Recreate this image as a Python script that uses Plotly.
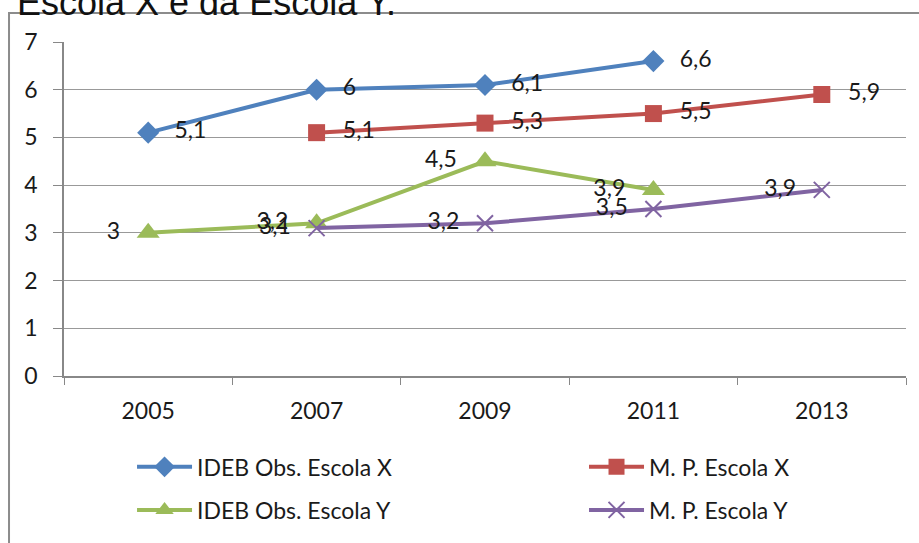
import plotly.graph_objects as go

years = ["2005", "2007", "2009", "2011", "2013"]
ideb_x = [5.1, 6.0, 6.1, 6.6, None]
mp_x = [None, 5.1, 5.3, 5.5, 5.9]
ideb_y = [3.0, 3.2, 4.5, 3.9, None]
mp_y = [None, 3.1, 3.2, 3.5, 3.9]

PAD = "\u00a0\u00a0\u2009"


def labels(vals, side):
    out = []
    for v in vals:
        if v is None:
            out.append("")
            continue
        s = f"{v:g}".replace(".", ",")
        out.append(PAD + s if side == "right" else s + PAD)
    return out


FONT = "Lato"
FS = 23
# name, values, colour, marker, size, label side, legend id, legend x, legend y
series = [
    ("IDEB Obs. Escola X", ideb_x, "#4F81BD", "diamond", 17, "right", "legend", 0.0808, -0.272),
    ("M. P. Escola X", mp_x, "#C0504D", "square", 17, "right", "legend2", 0.6176, -0.272),
    ("IDEB Obs. Escola Y", ideb_y, "#9BBB59", "triangle-up", 20, "left", "legend3", 0.0808, -0.401),
    ("M. P. Escola Y", mp_y, "#8064A2", "x-thin", 16, "left", "legend4", 0.6176, -0.401),
]

fig = go.Figure()
legends = {}
for name, vals, color, sym, size, side, leg, lx, ly in series:
    marker = dict(symbol=sym, size=size, color=color)
    if sym == "x-thin":
        marker["line"] = dict(color=color, width=2)
    fig.add_trace(go.Scatter(
        x=years, y=vals, name=name, mode="lines+markers+text",
        line=dict(color=color, width=4), marker=marker,
        text=labels(vals, side), textposition="middle " + side,
        textfont=dict(family=FONT, size=FS, color="#1a1a1a"),
        legend=leg, showlegend=True,
    ))
    legends[leg] = dict(orientation="h", x=lx, y=ly, xanchor="left", yanchor="middle",
                        itemwidth=55, bgcolor="rgba(0,0,0,0)")

fig.update_layout(
    width=919, height=543,
    showlegend=True,
    margin=dict(l=64, r=13, t=42, b=167),
    paper_bgcolor="white", plot_bgcolor="white",
    font=dict(family=FONT, size=FS, color="#1a1a1a"),
    shapes=[dict(type="rect", xref="paper", yref="paper", x0=-0.0653, x1=1.05,
                 y0=-0.6, y1=1.0868, line=dict(color="#8c8c8c", width=2), layer="below")],
    annotations=[dict(text="Escola X e da Escola Y.", xref="paper", yref="paper",
                      x=-0.0585, y=1.1197, xanchor="left", yanchor="middle", showarrow=False,
                      font=dict(family="Liberation Sans", size=36, color="#111"))],
    **legends,
)
fig.update_xaxes(type="category", range=[-0.5, 4.5], showgrid=False, showline=True,
                 linecolor="#888", linewidth=1.5,
                 ticks="outside", tickson="boundaries", ticklen=7, tickcolor="#888",
                 ticklabelstandoff=14, tickfont=dict(size=FS))
fig.update_yaxes(range=[0, 7], dtick=1, showgrid=True, gridcolor="#999", gridwidth=1,
                 showline=True, linecolor="#888", linewidth=1.5, zeroline=False,
                 ticks="outside", ticklen=9, tickcolor="#888", ticklabelstandoff=11,
                 tickfont=dict(size=FS))
fig.write_html("out.html", config={"displayModeBar": False},
               post_script="document.body.style.margin='0';")
